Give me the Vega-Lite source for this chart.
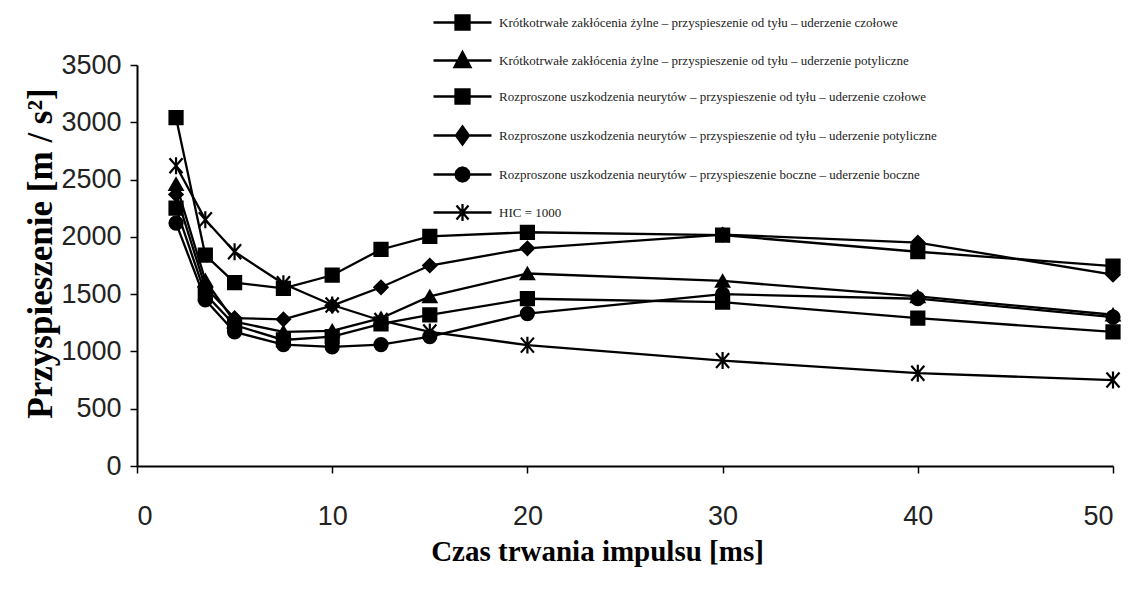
{
  "$schema": "https://vega.github.io/schema/vega-lite/v6.json",
  "width": 976,
  "height": 401,
  "autosize": {"type": "none"},
  "padding": {"left": 137, "top": 65, "right": 18, "bottom": 124},
  "background": "white",
  "config": {
    "view": {"stroke": null},
    "axis": {
      "grid": false,
      "domainColor": "black",
      "domainWidth": 2,
      "tickColor": "black",
      "tickWidth": 1.5,
      "tickSize": 7,
      "labelColor": "#222",
      "labelFont": "Liberation Sans Narrow, Liberation Sans, sans-serif",
      "labelFontSize": 27,
      "titleFont": "Liberation Serif",
      "titleFontWeight": "bold",
      "titleColor": "black"
    }
  },
  "datasets": {
    "d": [
      {"x": 2, "y": 3040, "s": "Krótkotrwałe zakłócenia żylne – przyspieszenie od tyłu – uderzenie czołowe"},
      {"x": 3.5, "y": 1840, "s": "Krótkotrwałe zakłócenia żylne – przyspieszenie od tyłu – uderzenie czołowe"},
      {"x": 5, "y": 1600, "s": "Krótkotrwałe zakłócenia żylne – przyspieszenie od tyłu – uderzenie czołowe"},
      {"x": 7.5, "y": 1550, "s": "Krótkotrwałe zakłócenia żylne – przyspieszenie od tyłu – uderzenie czołowe"},
      {"x": 10, "y": 1665, "s": "Krótkotrwałe zakłócenia żylne – przyspieszenie od tyłu – uderzenie czołowe"},
      {"x": 12.5, "y": 1890, "s": "Krótkotrwałe zakłócenia żylne – przyspieszenie od tyłu – uderzenie czołowe"},
      {"x": 15, "y": 2005, "s": "Krótkotrwałe zakłócenia żylne – przyspieszenie od tyłu – uderzenie czołowe"},
      {"x": 20, "y": 2040, "s": "Krótkotrwałe zakłócenia żylne – przyspieszenie od tyłu – uderzenie czołowe"},
      {"x": 30, "y": 2015, "s": "Krótkotrwałe zakłócenia żylne – przyspieszenie od tyłu – uderzenie czołowe"},
      {"x": 40, "y": 1870, "s": "Krótkotrwałe zakłócenia żylne – przyspieszenie od tyłu – uderzenie czołowe"},
      {"x": 50, "y": 1745, "s": "Krótkotrwałe zakłócenia żylne – przyspieszenie od tyłu – uderzenie czołowe"},

      {"x": 2, "y": 2460, "s": "Krótkotrwałe zakłócenia żylne – przyspieszenie od tyłu – uderzenie potyliczne"},
      {"x": 3.5, "y": 1620, "s": "Krótkotrwałe zakłócenia żylne – przyspieszenie od tyłu – uderzenie potyliczne"},
      {"x": 5, "y": 1260, "s": "Krótkotrwałe zakłócenia żylne – przyspieszenie od tyłu – uderzenie potyliczne"},
      {"x": 7.5, "y": 1170, "s": "Krótkotrwałe zakłócenia żylne – przyspieszenie od tyłu – uderzenie potyliczne"},
      {"x": 10, "y": 1180, "s": "Krótkotrwałe zakłócenia żylne – przyspieszenie od tyłu – uderzenie potyliczne"},
      {"x": 12.5, "y": 1290, "s": "Krótkotrwałe zakłócenia żylne – przyspieszenie od tyłu – uderzenie potyliczne"},
      {"x": 15, "y": 1480, "s": "Krótkotrwałe zakłócenia żylne – przyspieszenie od tyłu – uderzenie potyliczne"},
      {"x": 20, "y": 1680, "s": "Krótkotrwałe zakłócenia żylne – przyspieszenie od tyłu – uderzenie potyliczne"},
      {"x": 30, "y": 1615, "s": "Krótkotrwałe zakłócenia żylne – przyspieszenie od tyłu – uderzenie potyliczne"},
      {"x": 40, "y": 1480, "s": "Krótkotrwałe zakłócenia żylne – przyspieszenie od tyłu – uderzenie potyliczne"},
      {"x": 50, "y": 1320, "s": "Krótkotrwałe zakłócenia żylne – przyspieszenie od tyłu – uderzenie potyliczne"},

      {"x": 2, "y": 2250, "s": "Rozproszone uszkodzenia neurytów – przyspieszenie od tyłu – uderzenie czołowe"},
      {"x": 3.5, "y": 1500, "s": "Rozproszone uszkodzenia neurytów – przyspieszenie od tyłu – uderzenie czołowe"},
      {"x": 5, "y": 1230, "s": "Rozproszone uszkodzenia neurytów – przyspieszenie od tyłu – uderzenie czołowe"},
      {"x": 7.5, "y": 1100, "s": "Rozproszone uszkodzenia neurytów – przyspieszenie od tyłu – uderzenie czołowe"},
      {"x": 10, "y": 1130, "s": "Rozproszone uszkodzenia neurytów – przyspieszenie od tyłu – uderzenie czołowe"},
      {"x": 12.5, "y": 1240, "s": "Rozproszone uszkodzenia neurytów – przyspieszenie od tyłu – uderzenie czołowe"},
      {"x": 15, "y": 1320, "s": "Rozproszone uszkodzenia neurytów – przyspieszenie od tyłu – uderzenie czołowe"},
      {"x": 20, "y": 1460, "s": "Rozproszone uszkodzenia neurytów – przyspieszenie od tyłu – uderzenie czołowe"},
      {"x": 30, "y": 1430, "s": "Rozproszone uszkodzenia neurytów – przyspieszenie od tyłu – uderzenie czołowe"},
      {"x": 40, "y": 1290, "s": "Rozproszone uszkodzenia neurytów – przyspieszenie od tyłu – uderzenie czołowe"},
      {"x": 50, "y": 1170, "s": "Rozproszone uszkodzenia neurytów – przyspieszenie od tyłu – uderzenie czołowe"},

      {"x": 2, "y": 2370, "s": "Rozproszone uszkodzenia neurytów – przyspieszenie od tyłu – uderzenie potyliczne"},
      {"x": 3.5, "y": 1560, "s": "Rozproszone uszkodzenia neurytów – przyspieszenie od tyłu – uderzenie potyliczne"},
      {"x": 5, "y": 1290, "s": "Rozproszone uszkodzenia neurytów – przyspieszenie od tyłu – uderzenie potyliczne"},
      {"x": 7.5, "y": 1280, "s": "Rozproszone uszkodzenia neurytów – przyspieszenie od tyłu – uderzenie potyliczne"},
      {"x": 10, "y": 1400, "s": "Rozproszone uszkodzenia neurytów – przyspieszenie od tyłu – uderzenie potyliczne"},
      {"x": 12.5, "y": 1560, "s": "Rozproszone uszkodzenia neurytów – przyspieszenie od tyłu – uderzenie potyliczne"},
      {"x": 15, "y": 1750, "s": "Rozproszone uszkodzenia neurytów – przyspieszenie od tyłu – uderzenie potyliczne"},
      {"x": 20, "y": 1900, "s": "Rozproszone uszkodzenia neurytów – przyspieszenie od tyłu – uderzenie potyliczne"},
      {"x": 30, "y": 2020, "s": "Rozproszone uszkodzenia neurytów – przyspieszenie od tyłu – uderzenie potyliczne"},
      {"x": 40, "y": 1950, "s": "Rozproszone uszkodzenia neurytów – przyspieszenie od tyłu – uderzenie potyliczne"},
      {"x": 50, "y": 1670, "s": "Rozproszone uszkodzenia neurytów – przyspieszenie od tyłu – uderzenie potyliczne"},

      {"x": 2, "y": 2120, "s": "Rozproszone uszkodzenia neurytów – przyspieszenie boczne – uderzenie boczne"},
      {"x": 3.5, "y": 1450, "s": "Rozproszone uszkodzenia neurytów – przyspieszenie boczne – uderzenie boczne"},
      {"x": 5, "y": 1170, "s": "Rozproszone uszkodzenia neurytów – przyspieszenie boczne – uderzenie boczne"},
      {"x": 7.5, "y": 1060, "s": "Rozproszone uszkodzenia neurytów – przyspieszenie boczne – uderzenie boczne"},
      {"x": 10, "y": 1040, "s": "Rozproszone uszkodzenia neurytów – przyspieszenie boczne – uderzenie boczne"},
      {"x": 12.5, "y": 1060, "s": "Rozproszone uszkodzenia neurytów – przyspieszenie boczne – uderzenie boczne"},
      {"x": 15, "y": 1130, "s": "Rozproszone uszkodzenia neurytów – przyspieszenie boczne – uderzenie boczne"},
      {"x": 20, "y": 1330, "s": "Rozproszone uszkodzenia neurytów – przyspieszenie boczne – uderzenie boczne"},
      {"x": 30, "y": 1500, "s": "Rozproszone uszkodzenia neurytów – przyspieszenie boczne – uderzenie boczne"},
      {"x": 40, "y": 1460, "s": "Rozproszone uszkodzenia neurytów – przyspieszenie boczne – uderzenie boczne"},
      {"x": 50, "y": 1300, "s": "Rozproszone uszkodzenia neurytów – przyspieszenie boczne – uderzenie boczne"},

      {"x": 2, "y": 2620, "s": "HIC = 1000"},
      {"x": 3.5, "y": 2150, "s": "HIC = 1000"},
      {"x": 5, "y": 1870, "s": "HIC = 1000"},
      {"x": 7.5, "y": 1590, "s": "HIC = 1000"},
      {"x": 10, "y": 1405, "s": "HIC = 1000"},
      {"x": 12.5, "y": 1270, "s": "HIC = 1000"},
      {"x": 15, "y": 1170, "s": "HIC = 1000"},
      {"x": 20, "y": 1055, "s": "HIC = 1000"},
      {"x": 30, "y": 920, "s": "HIC = 1000"},
      {"x": 40, "y": 810, "s": "HIC = 1000"},
      {"x": 50, "y": 750, "s": "HIC = 1000"}
    ]
  },
  "data": {"name": "d"},
  "encoding": {
    "x": {
      "field": "x", "type": "quantitative",
      "scale": {"domain": [0, 50], "nice": false, "zero": false},
      "axis": {
        "values": [0, 10, 20, 30, 40, 50],
        "labelPadding": 30,
        "title": "Czas trwania impulsu [ms]",
        "titleFontSize": 29,
        "titlePadding": 8,
        "titleX": 460
      }
    },
    "y": {
      "field": "y", "type": "quantitative",
      "scale": {"domain": [0, 3500], "nice": false},
      "axis": {
        "values": [0, 500, 1000, 1500, 2000, 2500, 3000, 3500],
        "format": "d",
        "labelPadding": 9,
        "title": "Przyspieszenie  [m / s²]",
        "titleFontSize": 35,
        "titlePadding": 2,
        "titleY": 188
      }
    }
  },
  "layer": [
    {
      "mark": {"type": "line", "strokeWidth": 2.3},
      "encoding": {
        "order": {"field": "x", "type": "quantitative"},
        "color": {
          "field": "s", "type": "nominal",
          "scale": {
            "domain": [
              "Krótkotrwałe zakłócenia żylne – przyspieszenie od tyłu – uderzenie czołowe",
              "Krótkotrwałe zakłócenia żylne – przyspieszenie od tyłu – uderzenie potyliczne",
              "Rozproszone uszkodzenia neurytów – przyspieszenie od tyłu – uderzenie czołowe",
              "Rozproszone uszkodzenia neurytów – przyspieszenie od tyłu – uderzenie potyliczne",
              "Rozproszone uszkodzenia neurytów – przyspieszenie boczne – uderzenie boczne",
              "HIC = 1000"
            ],
            "range": ["black", "black", "black", "black", "black", "black"]
          },
          "legend": {
            "title": null,
            "orient": "none",
            "legendX": 314,
            "legendY": -54,
            "padding": 0,
            "symbolSize": 400,
            "symbolOffset": 0,
            "symbolStrokeWidth": 2.3,
            "labelOffset": 25,
            "rowPadding": 12,
            "labelFont": "Liberation Serif",
            "labelFontSize": 13,
            "labelColor": "#222",
            "labelLimit": 700,
            "encode": {
              "symbols": {
                "update": {
                  "shape": {"signal": "['M-2.9,0H2.9M-0.7,-0.7H0.7V0.7H-0.7Z','M-2.9,0H2.9M0,-0.85L0.8,0.65H-0.8Z','M-2.9,0H2.9M-0.7,-0.7H0.7V0.7H-0.7Z','M-2.9,0H2.9M0,-0.9L0.65,0L0,0.9L-0.65,0Z','M-2.9,0H2.9M0.7,0L0.606,0.35L0.35,0.606L0,0.7L-0.35,0.606L-0.606,0.35L-0.7,0L-0.606,-0.35L-0.35,-0.606L0,-0.7L0.35,-0.606L0.606,-0.35Z','M-2.9,0H2.9M-0.6,-0.7L0.6,0.7M-0.6,0.7L0.6,-0.7M0,-0.85V0.85'][datum.index]"},
                  "fill": {"value": "black"},
                  "stroke": {"value": "black"},
                  "strokeWidth": {"value": 2.3},
                  "opacity": {"value": 1}
                }
              }
            }
          }
        }
      }
    },
    {
      "transform": [{"filter": {"field": "s", "oneOf": [
        "Krótkotrwałe zakłócenia żylne – przyspieszenie od tyłu – uderzenie czołowe",
        "Rozproszone uszkodzenia neurytów – przyspieszenie od tyłu – uderzenie czołowe"
      ]}}],
      "mark": {"type": "point", "shape": "square", "filled": true, "fill": "black", "stroke": "black", "strokeWidth": 2, "size": 175, "opacity": 1}
    },
    {
      "transform": [{"filter": {"field": "s", "equal": "Krótkotrwałe zakłócenia żylne – przyspieszenie od tyłu – uderzenie potyliczne"}}],
      "mark": {"type": "point", "shape": "triangle-up", "filled": true, "fill": "black", "stroke": "black", "strokeWidth": 2, "size": 180, "opacity": 1}
    },
    {
      "transform": [{"filter": {"field": "s", "equal": "Rozproszone uszkodzenia neurytów – przyspieszenie od tyłu – uderzenie potyliczne"}}],
      "mark": {"type": "point", "shape": "diamond", "filled": true, "fill": "black", "stroke": "black", "strokeWidth": 2, "size": 180, "opacity": 1}
    },
    {
      "transform": [{"filter": {"field": "s", "equal": "Rozproszone uszkodzenia neurytów – przyspieszenie boczne – uderzenie boczne"}}],
      "mark": {"type": "point", "shape": "circle", "filled": true, "fill": "black", "stroke": "black", "strokeWidth": 2, "size": 175, "opacity": 1}
    },
    {
      "transform": [{"filter": {"field": "s", "equal": "HIC = 1000"}}],
      "mark": {"type": "point", "shape": "M-1,-1.15L1,1.15M-1,1.15L1,-1.15M0,-1.3V1.3", "filled": false, "stroke": "black", "strokeWidth": 2.2, "size": 170, "opacity": 1}
    }
  ]
}
